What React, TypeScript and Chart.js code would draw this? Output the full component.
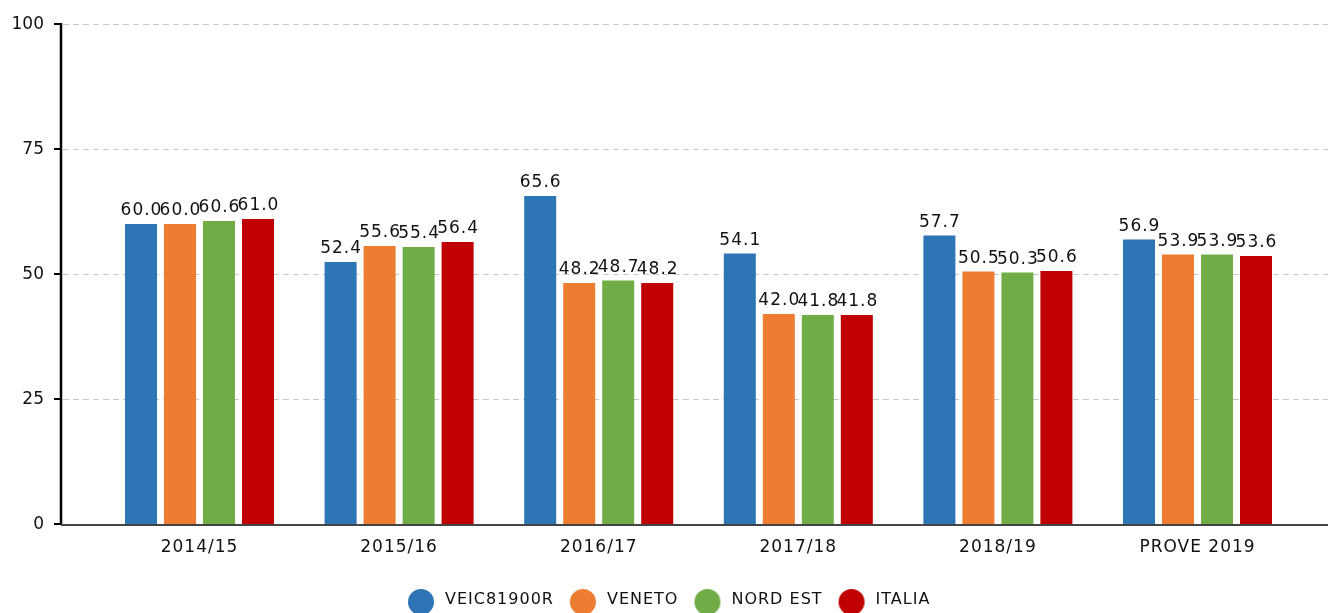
import React, { useEffect, useRef } from "react";
import { Chart, registerables } from "chart.js";

Chart.register(...registerables);

const categories = ["2014/15", "2015/16", "2016/17", "2017/18", "2018/19", "PROVE 2019"];
const seriesNames = ["VEIC81900R", "VENETO", "NORD EST", "ITALIA"];
const veic = [60.0, 52.4, 65.6, 54.1, 57.7, 56.9];
const veneto = [60.0, 55.6, 48.2, 42.0, 50.5, 53.9];
const nordEst = [60.6, 55.4, 48.7, 41.8, 50.3, 53.9];
const italia = [61.0, 56.4, 48.2, 41.8, 50.6, 53.6];
const yTicks = [0, 25, 50, 75, 100];
const colors = ["#2E75B6", "#ED7D31", "#70AD47", "#C00000"];

const FONT = "'DejaVu Sans', sans-serif";

function makeMarker(color: string): HTMLCanvasElement {
  const c = document.createElement("canvas");
  c.width = 48;
  c.height = 40;
  const g = c.getContext("2d")!;
  g.fillStyle = color;
  g.beginPath();
  g.arc(24 - 8, 20 + 2, 13, 0, Math.PI * 2);
  g.fill();
  return c;
}

const decorPlugin = {
  id: "decor",
  beforeLayout(chart: any) {
    chart.ctx.letterSpacing = "1px";
  },
  afterLayout(chart: any) {
    const lg = chart.legend;
    if (lg) {
      lg.top += 5;
      lg.bottom += 5;
      lg.left += 27;
      lg.right += 27;
    }
  },
  beforeDraw(chart: any) {
    chart.ctx.letterSpacing = "1px";
  },
  beforeDatasetsDraw(chart: any) {
    const ctx = chart.ctx;
    const y = chart.scales.y;
    const right = chart.width;
    ctx.save();
    ctx.strokeStyle = "#c8c8c8";
    ctx.lineWidth = 1;
    ctx.setLineDash([6, 4]);
    yTicks.forEach((t) => {
      const py = Math.round(y.getPixelForValue(t)) + 0.5;
      ctx.beginPath();
      ctx.moveTo(63, py);
      ctx.lineTo(right, py);
      ctx.stroke();
    });
    ctx.setLineDash([]);
    const top = y.getPixelForValue(100);
    const bot = y.getPixelForValue(0);
    ctx.strokeStyle = "#000";
    ctx.lineWidth = 2.5;
    ctx.beginPath();
    ctx.moveTo(61, top - 1);
    ctx.lineTo(61, bot + 1);
    ctx.stroke();
    ctx.lineWidth = 2;
    ctx.letterSpacing = "0px";
    ctx.font = `17px ${FONT}`;
    ctx.fillStyle = "#111";
    ctx.textAlign = "right";
    ctx.textBaseline = "middle";
    yTicks.forEach((t) => {
      const py = Math.round(y.getPixelForValue(t));
      ctx.beginPath();
      ctx.moveTo(54, py);
      ctx.lineTo(61, py);
      ctx.stroke();
      ctx.fillText(String(t), 44, py + 1);
    });
    ctx.restore();
  },
  afterDatasetsDraw(chart: any) {
    const ctx = chart.ctx;
    const y = chart.scales.y;
    ctx.save();
    const bot = Math.round(y.getPixelForValue(0));
    ctx.strokeStyle = "#444";
    ctx.lineWidth = 2;
    ctx.beginPath();
    ctx.moveTo(61, bot + 1);
    ctx.lineTo(chart.width, bot + 1);
    ctx.stroke();
    ctx.letterSpacing = "1px";
    ctx.font = `17px ${FONT}`;
    ctx.fillStyle = "#111";
    ctx.textAlign = "center";
    ctx.textBaseline = "alphabetic";
    chart.data.datasets.forEach((ds: any, i: number) => {
      const meta = chart.getDatasetMeta(i);
      meta.data.forEach((bar: any, j: number) => {
        const v = ds.data[j];
        ctx.fillText(v.toFixed(1), bar.x + 0.5, bar.y - 9);
      });
    });
    ctx.restore();
  },
};

export default function App() {
  const ref = useRef<HTMLCanvasElement | null>(null);
  useEffect(() => {
    document.body.style.margin = "0";
    const canvas = ref.current;
    if (!canvas) return;
    const values = [veic, veneto, nordEst, italia];
    const markers = colors.map(makeMarker);
    const chart = new Chart(canvas, {
      type: "bar",
      data: {
        labels: categories,
        datasets: seriesNames.map((name, i) => ({
          label: name,
          data: values[i],
          backgroundColor: colors[i],
          borderWidth: 0,
          categoryPercentage: 0.7816,
          barPercentage: 0.8205,
        })),
      },
      options: {
        animation: false,
        responsive: true,
        maintainAspectRatio: false,
        layout: { padding: { top: 24, right: 30.7, left: 0, bottom: 0 } },
        plugins: {
          tooltip: { enabled: false },
          legend: {
            position: "bottom",
            labels: {
              usePointStyle: true,
              padding: 29,
              color: "#111",
              font: { family: FONT, size: 16 },
              generateLabels: (chart: any) => {
                const items = (Chart.defaults as any).plugins.legend.labels.generateLabels(chart);
                items.forEach((it: any, i: number) => {
                  it.pointStyle = markers[i];
                  it.fontColor = "#111";
                });
                return items;
              },
            },
          },
        },
        scales: {
          x: {
            grid: { display: false, drawTicks: false, tickLength: 0 },
            border: { display: false },
            ticks: {
              color: "#111",
              font: { family: FONT, size: 17 },
              padding: 13,
              maxRotation: 0,
              autoSkip: false,
            },
            afterFit: (s: any) => {
              s.height = 34;
            },
          },
          y: {
            min: 0,
            max: 100,
            grid: { display: false, drawTicks: false, tickLength: 0 },
            border: { display: false },
            ticks: { display: false, stepSize: 25 },
            afterFit: (s: any) => {
              s.width = 99.7;
            },
          },
        },
      },
      plugins: [decorPlugin],
    });
    return () => chart.destroy();
  }, []);
  return (
    <div style={{ position: "fixed", left: 0, top: 0, width: 1328, height: 613 }}>
      <canvas ref={ref} />
    </div>
  );
}
